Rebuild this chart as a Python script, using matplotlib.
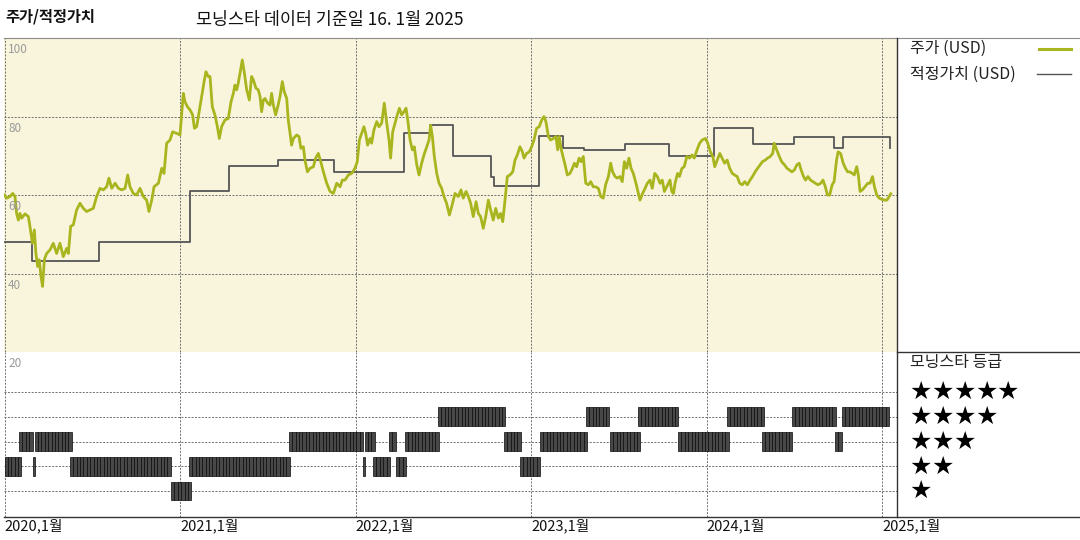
import matplotlib
matplotlib.use("Agg")
import matplotlib.pyplot as plt
from matplotlib.lines import Line2D
import matplotlib.transforms as mtransforms
import numpy as np

plt.rcParams['font.family'] = ['Noto Sans CJK KR', 'DejaVu Sans']

# price (USD), time as decimal year
price_t = [
    2020.000, 2020.012, 2020.031, 2020.047, 2020.060, 2020.069, 2020.079, 2020.088, 2020.098, 2020.117,
    2020.136, 2020.145, 2020.159, 2020.170, 2020.179, 2020.189, 2020.198, 2020.208, 2020.217, 2020.227,
    2020.240, 2020.259, 2020.278, 2020.297, 2020.316, 2020.335, 2020.354, 2020.364, 2020.377, 2020.392,
    2020.411, 2020.430, 2020.449, 2020.468, 2020.487, 2020.506, 2020.525, 2020.544, 2020.563, 2020.582,
    2020.595, 2020.611, 2020.630, 2020.649, 2020.668, 2020.687, 2020.702, 2020.715, 2020.734, 2020.753,
    2020.772, 2020.791, 2020.810, 2020.823, 2020.839, 2020.852, 2020.877, 2020.896, 2020.909, 2020.924,
    2020.943, 2020.958, 2020.981, 2021.000, 2021.010, 2021.019, 2021.028, 2021.042, 2021.057, 2021.072,
    2021.082, 2021.095, 2021.114, 2021.127, 2021.139, 2021.148, 2021.161, 2021.171, 2021.184, 2021.199,
    2021.213, 2021.224, 2021.237, 2021.256, 2021.275, 2021.291, 2021.304, 2021.313, 2021.323, 2021.332,
    2021.342, 2021.355, 2021.367, 2021.380, 2021.395, 2021.408, 2021.418, 2021.433, 2021.446, 2021.456,
    2021.465, 2021.475, 2021.484, 2021.500, 2021.513, 2021.522, 2021.532, 2021.545, 2021.557, 2021.570,
    2021.583, 2021.594, 2021.608, 2021.617, 2021.627, 2021.636, 2021.646, 2021.665, 2021.678, 2021.689,
    2021.703, 2021.712, 2021.726, 2021.741, 2021.760, 2021.773, 2021.788, 2021.802, 2021.817, 2021.836,
    2021.855, 2021.874, 2021.893, 2021.912, 2021.925, 2021.940, 2021.959, 2021.978, 2021.997, 2022.010,
    2022.022, 2022.035, 2022.048, 2022.058, 2022.069, 2022.083, 2022.092, 2022.105, 2022.121, 2022.134,
    2022.149, 2022.164, 2022.178, 2022.191, 2022.200, 2022.212, 2022.225, 2022.238, 2022.250, 2022.263,
    2022.276, 2022.288, 2022.299, 2022.311, 2022.324, 2022.335, 2022.349, 2022.362, 2022.377, 2022.390,
    2022.406, 2022.419, 2022.428, 2022.438, 2022.449, 2022.463, 2022.476, 2022.491, 2022.504, 2022.519,
    2022.535, 2022.548, 2022.567, 2022.586, 2022.601, 2022.614, 2022.630, 2022.643, 2022.656, 2022.671,
    2022.687, 2022.700, 2022.713, 2022.728, 2022.742, 2022.757, 2022.770, 2022.785, 2022.799, 2022.814,
    2022.827, 2022.839, 2022.852, 2022.865, 2022.880, 2022.896, 2022.909, 2022.922, 2022.937, 2022.951,
    2022.960, 2022.975, 2022.990, 2023.004, 2023.017, 2023.032, 2023.047, 2023.061, 2023.074, 2023.085,
    2023.099, 2023.112, 2023.127, 2023.142, 2023.152, 2023.161, 2023.171, 2023.180, 2023.194, 2023.207,
    2023.222, 2023.236, 2023.247, 2023.260, 2023.274, 2023.285, 2023.298, 2023.312, 2023.327, 2023.340,
    2023.355, 2023.368, 2023.384, 2023.397, 2023.412, 2023.425, 2023.441, 2023.454, 2023.465, 2023.479,
    2023.492, 2023.507, 2023.520, 2023.532, 2023.545, 2023.558, 2023.570, 2023.583, 2023.598, 2023.612,
    2023.621, 2023.636, 2023.650, 2023.663, 2023.678, 2023.691, 2023.705, 2023.720, 2023.735, 2023.748,
    2023.760, 2023.773, 2023.792, 2023.802, 2023.812, 2023.821, 2023.835, 2023.846, 2023.860, 2023.873,
    2023.888, 2023.904, 2023.917, 2023.930, 2023.946, 2023.961, 2023.975, 2023.994, 2024.007, 2024.022,
    2024.036, 2024.047, 2024.061, 2024.076, 2024.089, 2024.103, 2024.118, 2024.132, 2024.147, 2024.160,
    2024.175, 2024.189, 2024.204, 2024.218, 2024.233, 2024.248, 2024.262, 2024.277, 2024.291, 2024.306,
    2024.319, 2024.335, 2024.348, 2024.363, 2024.377, 2024.386, 2024.400, 2024.415, 2024.428, 2024.444,
    2024.459, 2024.472, 2024.486, 2024.501, 2024.515, 2024.528, 2024.539, 2024.553, 2024.564, 2024.578,
    2024.593, 2024.606, 2024.620, 2024.635, 2024.651, 2024.664, 2024.677, 2024.689, 2024.702, 2024.716,
    2024.727, 2024.741, 2024.750, 2024.764, 2024.779, 2024.792, 2024.804, 2024.817, 2024.831, 2024.842,
    2024.856, 2024.865, 2024.875, 2024.888, 2024.903, 2024.919, 2024.932, 2024.946, 2024.957, 2024.970,
    2024.984, 2024.999, 2025.014, 2025.028, 2025.041, 2025.050,
]
price_v = [
    60.0, 59.2, 59.6, 60.4, 59.6, 55.3, 53.6, 55.3, 54.1, 55.2,
    54.5, 52.0, 47.7, 51.1, 45.1, 41.8, 43.5, 39.2, 36.7, 43.5,
    45.1, 46.0, 47.7, 45.1, 47.7, 44.3, 46.4, 45.1, 52.0, 52.4,
    56.2, 57.9, 56.6, 55.8, 56.2, 56.6, 59.6, 61.7, 61.3, 62.1,
    64.3, 61.7, 63.0, 61.7, 61.3, 61.7, 65.1, 62.1, 60.4, 60.0,
    61.7, 59.6, 58.7, 55.8, 58.7, 62.1, 63.0, 66.8, 65.5, 73.2,
    74.0, 76.1, 75.7, 75.3, 80.8, 85.9, 83.8, 82.5, 81.7, 80.4,
    77.0, 77.4, 82.5, 85.9, 89.3, 91.4, 90.2, 90.2, 82.5, 80.4,
    77.4, 74.4, 77.4, 79.1, 79.5, 83.8, 85.9, 88.0, 86.8, 88.5,
    91.0, 94.4, 91.0, 86.8, 84.2, 90.2, 89.3, 87.2, 86.8, 85.1,
    81.2, 84.2, 84.6, 83.4, 82.9, 85.9, 82.9, 80.4, 82.5, 85.1,
    88.9, 86.3, 84.6, 79.1, 75.7, 72.7, 74.4, 75.3, 74.9, 71.9,
    72.3, 68.9, 65.9, 66.8, 67.2, 69.4, 70.6, 68.5, 65.9, 63.0,
    60.9, 60.4, 63.0, 62.1, 63.8, 63.8, 65.1, 65.5, 66.8, 68.5,
    74.0, 75.7, 77.4, 75.7, 72.7, 74.4, 73.2, 76.6, 78.7, 77.4,
    78.3, 83.4, 78.3, 74.0, 69.4, 76.1, 78.3, 80.4, 82.1, 80.4,
    81.2, 82.1, 78.7, 74.0, 71.5, 72.3, 67.7, 65.1, 68.1, 70.2,
    72.3, 74.0, 77.8, 74.9, 69.8, 65.5, 63.0, 61.7, 59.6, 57.9,
    54.9, 57.0, 60.4, 59.6, 61.3, 59.2, 60.9, 59.6, 57.9, 54.5,
    58.3, 55.3, 54.5, 51.5, 54.5, 58.7, 56.2, 53.6, 56.6, 54.1,
    55.3, 53.2, 58.7, 64.7, 65.1, 65.9, 68.9, 70.2, 72.3, 71.0,
    69.4, 70.6, 71.0, 72.3, 74.0, 77.0, 77.4, 79.1, 80.0, 78.7,
    74.9, 74.0, 74.4, 74.9, 71.5, 74.9, 71.9, 70.2, 67.7, 65.1,
    65.5, 66.8, 68.1, 67.2, 69.4, 68.5, 69.8, 63.0, 62.6, 63.4,
    62.1, 62.1, 61.7, 59.6, 59.2, 62.6, 64.7, 68.1, 65.9, 64.7,
    64.3, 64.7, 63.4, 68.5, 66.8, 69.4, 66.8, 65.5, 63.0, 60.4,
    58.7, 60.4, 61.7, 63.0, 63.8, 61.7, 65.5, 64.7, 63.0, 63.8,
    60.9, 62.1, 63.8, 60.9, 60.4, 63.0, 65.5, 64.7, 66.8, 67.2,
    69.8, 69.4, 70.2, 69.4, 71.5, 73.2, 74.0, 74.4, 73.2, 71.0,
    69.8, 67.2, 68.9, 70.6, 69.4, 68.1, 68.9, 66.8, 65.5, 65.1,
    64.7, 63.0, 62.6, 63.4, 62.6, 63.8, 64.7, 65.9, 66.8, 67.7,
    68.5, 68.9, 69.4, 69.8, 70.6, 73.2, 71.5, 69.8, 68.5, 67.7,
    66.8, 66.4, 65.9, 66.4, 67.7, 68.1, 66.4, 64.7, 63.8, 64.7,
    63.8, 63.4, 63.0, 62.6, 63.0, 63.8, 62.1, 60.0, 60.0, 62.6,
    63.4, 68.9, 71.0, 70.6, 68.1, 66.8, 65.9, 65.9, 65.5, 65.1,
    67.2, 65.1, 60.9, 61.3, 62.1, 63.0, 63.0, 64.7, 62.1, 60.0,
    59.2, 58.9, 58.7, 58.7, 59.6, 60.3,
]

# fair value (USD), step changes
fv_t = [2020.000, 2020.159, 2020.538, 2021.055, 2021.282, 2021.560, 2021.880, 2022.278,
        2022.425, 2022.554, 2022.770, 2022.790, 2023.047, 2023.181, 2023.302, 2023.536,
        2023.785, 2024.042, 2024.266, 2024.497, 2024.727, 2024.779, 2025.045]
fv_v = [48.1, 43.2, 48.1, 61.0, 67.3, 68.9, 65.8, 75.9,
        77.8, 70.0, 64.7, 62.4, 75.0, 71.9, 71.5, 72.9,
        70.0, 77.0, 72.9, 74.9, 71.9, 74.9, 71.9]

# morningstar rating periods
rating_start = [2020.000, 2020.083, 2020.163, 2020.172, 2020.373, 2020.949, 2021.051, 2021.621,
                2022.044, 2022.052, 2022.100, 2022.191, 2022.231, 2022.282, 2022.470, 2022.846,
                2022.937, 2023.051, 2023.313, 2023.450, 2023.610, 2023.838, 2024.117, 2024.316,
                2024.487, 2024.732, 2024.772]
rating_end = rating_start[1:] + [2025.045]
rating_stars = [2, 3, 2, 3, 2, 1, 2, 3,
                2, 3, 2, 3, 2, 3, 4, 3,
                2, 3, 4, 3, 4, 3, 4, 3,
                4, 3, 4]

years = [2020, 2021, 2022, 2023, 2024, 2025]
year_labels = ['2020,1월', '2021,1월', '2022,1월', '2023,1월', '2024,1월', '2025,1월']
price_ticks = [100, 80, 60, 40, 20]

GREEN = '#a9b51e'
GRAY = '#555555'
BEIGE = '#f9f5dc'
GRID = dict(color='#6e6e6e', linewidth=0.7, linestyle=(0, (2, 1.5)))

W, H = 1080, 540


def fx(px):
    return px / W


def fy(py):
    return 1 - py / H


def fig_line(fig, x0, y0, x1, y1, color='#333333', lw=1.0):
    fig.add_artist(Line2D([fx(x0), fx(x1)], [fy(y0), fy(y1)], color=color, linewidth=lw))


def main():
    fig = plt.figure(figsize=(10.8, 5.4), dpi=100)
    xlim = (2020 - 0.5 / 175.5, 2020 + 892.5 / 175.5)

    # lower panel: rating history
    ax2 = fig.add_axes([fx(4), fy(517), (897 - 4) / W, (517 - 352) / H])
    ax2.set_xlim(xlim)
    ax2.set_ylim(-0.05, 6.62)
    for s in range(1, 6):
        ax2.axhline(s, **GRID, zorder=1)
    for yr in years:
        ax2.axvline(yr, **GRID, zorder=1)
    week = 1 / 52.18
    for st, en, s in zip(rating_start, rating_end, rating_stars):
        weeks = np.arange(st, en - week * 0.3, week)
        if len(weeks) == 0:
            weeks = np.array([st])
        w = min(week, en - st)
        ax2.bar(weeks, 0.76, bottom=s - 0.38, width=w, align='edge',
                color='#484848', edgecolor='#0a0a0a', linewidth=0.5, zorder=3)
    ax2.axis('off')
    trans = mtransforms.blended_transform_factory(ax2.transData, ax2.transAxes)
    for yr, lab in zip(years, year_labels):
        ax2.text(yr, -0.01, lab, transform=trans, ha='left', va='top', fontsize=10.5, color='#111111')

    # upper panel: price and fair value
    ax1 = fig.add_axes([fx(4), fy(352), (897 - 4) / W, (352 - 38) / H])
    ax1.set_facecolor(BEIGE)
    ax1.set_xlim(xlim)
    ax1.set_ylim(20, 100)
    for v in [20, 40, 60, 80]:
        ax1.axhline(v, **GRID, zorder=1)
    for yr in years:
        ax1.axvline(yr, **GRID, zorder=1)
    ax1.step(fv_t, fv_v, where='post', color=GRAY, linewidth=1.3, zorder=3)
    ax1.plot(price_t, price_v, color=GREEN, linewidth=2.0, zorder=4)
    for v in price_ticks:
        ax1.text(2020.02, v - 1.3, str(v), ha='left', va='top', fontsize=8.5,
                 color='#9a9a9a', clip_on=False, zorder=5)
    ax1.set_xticks([])
    ax1.set_yticks([])
    for sp in ax1.spines.values():
        sp.set_visible(False)

    # frame lines
    fig_line(fig, 4, 38, 1080, 38, color='#8c8c8c', lw=0.8)
    fig_line(fig, 897, 38, 897, 517, color='#333333', lw=1.0)
    fig_line(fig, 897, 352, 1080, 352, color='#333333', lw=1.0)
    fig_line(fig, 4, 517, 1080, 517, color='#333333', lw=1.0)

    # titles
    fig.text(fx(5), fy(17), '주가/적정가치', ha='left', va='center', fontsize=11,
             fontweight='bold', color='#111111')
    fig.text(fx(196), fy(20), '모닝스타 데이터 기준일 16. 1월 2025', ha='left', va='center',
             fontsize=12.5, color='#111111')

    # legend
    fig.text(fx(910), fy(48), '주가 (USD)', ha='left', va='center', fontsize=11.5, color='#222222')
    fig_line(fig, 1039, 49, 1071, 49, color=GREEN, lw=2.2)
    fig.text(fx(910), fy(74), '적정가치 (USD)', ha='left', va='center', fontsize=11.5, color='#222222')
    fig_line(fig, 1037, 74, 1071, 74, color=GRAY, lw=1.0)

    fig.text(fx(910), fy(363), '모닝스타 등급', ha='left', va='center', fontsize=11.5, color='#222222')
    row_y = [392, 417, 442, 467, 491]
    for i, y in enumerate(row_y):
        n = 5 - i
        for k in range(n):
            fig.text(fx(921 + 21.7 * k), fy(y), '★', ha='center', va='center',
                     fontsize=18, family='DejaVu Sans', color='#000000')

    fig.savefig('out.png', dpi=100)


if __name__ == '__main__':
    main()
